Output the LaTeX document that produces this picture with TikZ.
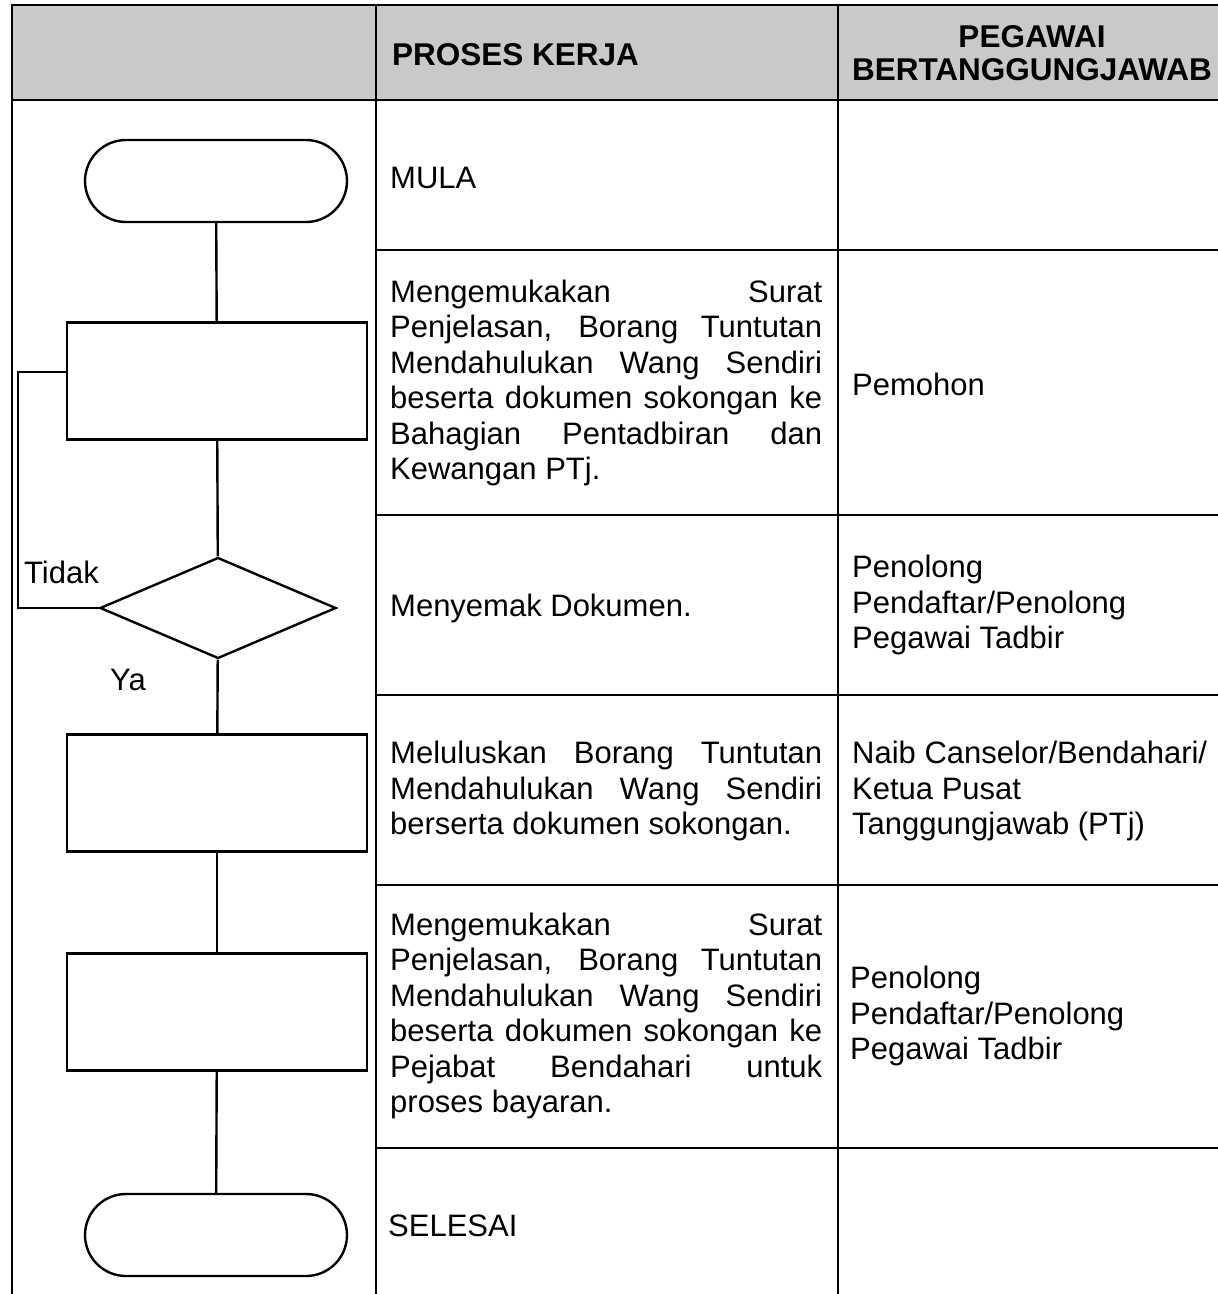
\documentclass[tikz,border=0pt]{standalone}
\usepackage{fontspec}
\setmainfont{Liberation Sans}
\usetikzlibrary{shapes.geometric,shapes.misc}

\begin{document}
\begin{tikzpicture}[x=1pt,y=-1pt,
    grid/.style={line width=1.9pt},
    flow/.style={line width=2.4pt},
    term/.style={flow,draw,rounded rectangle,minimum width=262pt,minimum height=82pt,inner sep=0pt},
    proc/.style={flow,draw,rectangle,minimum width=300pt,minimum height=117pt,inner sep=0pt},
    cond/.style={flow,draw,diamond,minimum width=236pt,minimum height=101pt,inner sep=0pt},
    txt/.style={anchor=west,inner sep=0pt,font=\fontsize{31}{35.5}\selectfont,align=left},
    para/.style={txt,text width=432pt,align=justify},
    head/.style={inner sep=0pt,font=\fontsize{31.5}{33}\selectfont\bfseries,align=center}]
\useasboundingbox (0,0) rectangle (1218,1294);
% jadual
\fill[black!21] (12,5) rectangle (1218,100);
\draw[grid] (1218,5) -- (12,5) -- (12,1294);
\draw[grid] (12,100) -- (1218,100);
\draw[grid] (376,5) -- (376,1294);
\draw[grid] (838,5) -- (838,1294);
\foreach \y in {250,515,695,885,1148}
  \draw[grid] (376,\y) -- (1218,\y);
\node[head,anchor=west] (hproses) at (392,55) {PROSES KERJA};
\node[head] (hpegawai) at (1032,53) {PEGAWAI\\BERTANGGUNGJAWAB};
% carta alir
\node[term] (mula) at (216,181) {};
\node[proc] (p1) at (217,381) {};
\node[cond] (semak) at (218,608) {};
\node[proc] (p2) at (217,793) {};
\node[proc] (p3) at (217,1012) {};
\node[term] (tamat) at (216,1235) {};
\coordinate (loopx) at (18,0);
\draw[flow] (mula) -- (p1);
\draw[flow] (p1) -- (semak);
\draw[flow] (semak) -- (p2);
\draw[flow] (p2) -- (p3);
\draw[flow] (p3) -- (tamat);
\draw[flow] (semak.west) -- (semak.west -| loopx) |- ([yshift=9pt]p1.west);
\node[txt] (tidak) at (24,572) {Tidak};
\node[txt] (ya) at (110,680) {Ya};
% proses kerja
\node[txt] (t1) at (390,178) {MULA};
\node[para] (t2) at (390,383) {Mengemukakan Surat\linebreak Penjelasan, Borang Tuntutan\linebreak Mendahulukan Wang Sendiri\linebreak beserta dokumen sokongan ke\linebreak Bahagian Pentadbiran dan\linebreak Kewangan PTj.};
\node[txt] (t3) at (390,608) {Menyemak Dokumen.};
\node[para] (t4) at (390,791) {Meluluskan Borang Tuntutan\linebreak Mendahulukan Wang Sendiri\linebreak berserta dokumen sokongan.};
\node[para] (t5) at (390,1016) {Mengemukakan Surat\linebreak Penjelasan, Borang Tuntutan\linebreak Mendahulukan Wang Sendiri\linebreak beserta dokumen sokongan ke\linebreak Pejabat Bendahari untuk\linebreak proses bayaran.};
\node[txt] (t6) at (388,1226) {SELESAI};
% pegawai
\node[txt] (r1) at (852,384) {Pemohon};
\node[txt] (r2) at (852,605) {Penolong\\Pendaftar/Penolong\\Pegawai Tadbir};
\node[txt] (r3) at (852,791) {Naib Canselor/Bendahari/\\Ketua Pusat\\Tanggungjawab (PTj)};
\node[txt] (r4) at (850,1016) {Penolong\\Pendaftar/Penolong\\Pegawai Tadbir};
\end{tikzpicture}
\end{document}
